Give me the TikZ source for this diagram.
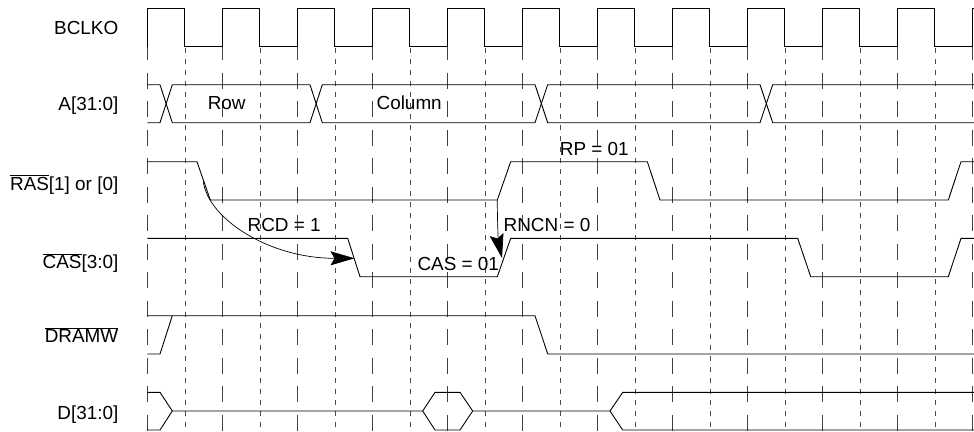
\documentclass[tikz,border=0pt]{standalone}
\usepackage{fontspec}
\setmainfont{Liberation Sans}
\usetikzlibrary{arrows.meta}
\begin{document}
\begin{tikzpicture}[x=1pt,y=-1pt,
  sig/.style={line width=0.9pt, line join=miter},
  lgrid/.style={black!75, line width=0.85pt, dash pattern=on 16pt off 12.5pt},
  sgrid/.style={black!70, line width=0.8pt, dash pattern=on 5pt off 6pt},
  txt/.style={inner sep=0pt, font=\fontsize{18.9}{22}\selectfont},
  lab/.style={txt, anchor=base east},
  ann/.style={txt, anchor=base},
  arr/.style={-{Stealth[length=24pt,width=14pt,inset=4pt]}, line width=0.7pt}]
\useasboundingbox (0,0) rectangle (974,431);
% grid
\foreach \k in {0,...,11} \draw[lgrid] ({147.3+75*\k},44) -- ({147.3+75*\k},431);
\foreach \k in {0,...,10} \draw[sgrid] ({185+75*\k},48) -- ({185+75*\k},431);
% clock
\draw[sig] (147.3,46.7) foreach \k in {1,...,11} { -- ++(0,-38.7) -- ++(37.5,0) -- ++(0,38.7) -- ++(37.5,0) } -- ++(0,-38.7) -- (974,8);
% address bus
\draw[sig] (147.3,84.7) -- (160,84.7) -- (172.3,122.7) -- (310,122.7) -- (322.3,84.7) -- (535,84.7) -- (547.7,122.7) -- (760,122.7) -- (772.7,84.7) -- (974,84.7);
\draw[sig] (147.3,122.7) -- (160,122.7) -- (172.3,84.7) -- (310,84.7) -- (322.3,122.7) -- (535,122.7) -- (547.7,84.7) -- (760,84.7) -- (772.7,122.7) -- (974,122.7);
% RAS
\draw[sig] (147.3,161.7) -- (197,161.7) -- (210.3,200) -- (497.3,200) -- (510.7,161.7) -- (647.3,161.7) -- (660,200) -- (948.3,200) -- (961,161.7) -- (974,161.7);
% CAS
\draw[sig] (147.3,238.3) -- (347.7,238.3) -- (360,276.7) -- (497.3,276.7) -- (510.7,238.3) -- (797.7,238.3) -- (810.7,276.7) -- (948.3,276.7) -- (961,238.3) -- (974,238.3);
% DRAMW
\draw[sig] (147.3,354) -- (160,354) -- (172.3,315.7);
\draw[sig] (147.3,315.7) -- (535,315.7) -- (547.7,354) -- (974,354);
% data bus
\draw[sig] (147.3,392.3) -- (160,392.3) -- (172.3,411) -- (422.7,411) -- (435,392.3) -- (460,392.3) -- (472.7,411) -- (610,411) -- (622.7,392.3) -- (974,392.3);
\draw[sig] (147.3,430) -- (160,430) -- (172.3,411);
\draw[sig] (422.7,411) -- (435,430) -- (460,430) -- (472.7,411);
\draw[sig] (610,411) -- (622.7,430) -- (974,430);
% arrows
\coordinate (rcdS) at (203.3,181.7);
\coordinate (rcdE) at (354.5,258.3);
\draw[arr] (rcdS) .. controls (208,218) and (268,258.3) .. (rcdE);
\coordinate (rncS) at (497.3,200);
\coordinate (rncE) at (502,258);
\draw[arr] (rncS) .. controls (497.3,230) and (499,245) .. (rncE);
% labels
\node[lab] (lclk) at (118.5,34.3) {BCLKO};
\node[lab] (la) at (118.5,110.5) {A[31:0]};
\node[lab] (lras) at (118.5,190) {$\overline{\mbox{RAS}}$[1] or [0]};
\node[lab] (lcas) at (118.5,268.3) {$\overline{\mbox{CAS}}$[3:0]};
\node[lab] (ldramw) at (118.5,342.5) {$\overline{\mbox{DRAMW}}$};
\node[lab] (ld) at (118.5,419.3) {D[31:0]};
\node[ann] (row) at (226.7,109.5) {Row};
\node[ann] (col) at (409.2,109.5) {Column};
\node[ann] (rp) at (594.3,155.7) {RP = 01};
\node[ann] (rcd) at (284.2,231.7) {RCD = 1};
\node[ann] (rncn) at (547,231.7) {RNCN = 0};
\node[ann] (casl) at (458.3,270) {CAS = 01};
\end{tikzpicture}
\end{document}
